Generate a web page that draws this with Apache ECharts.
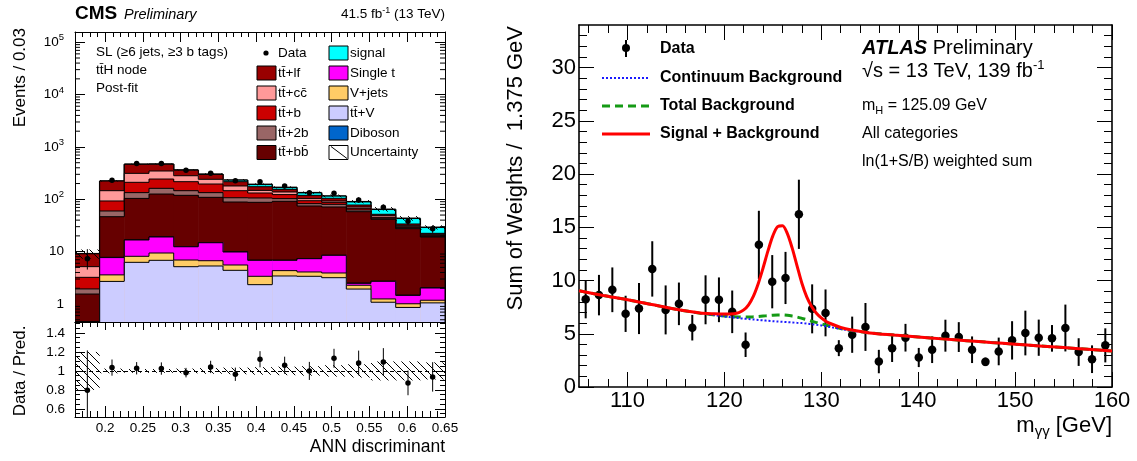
<!DOCTYPE html>
<html>
<head>
<meta charset="utf-8">
<script src="https://cdn.jsdelivr.net/npm/echarts@6/dist/echarts.min.js"></script>
<style>
  html, body { margin: 0; padding: 0; background: #fff; }
  #c { width: 1137px; height: 461px; }
</style>
</head>
<body>
<div id="c"></div>
<script>
// ============ Left: CMS ttH, SL (>=6 jets, >=3 b tags), ANN ttH node, post-fit ============
const annEdges = [0.16, 0.1927, 0.2253, 0.258, 0.2907, 0.3233, 0.356, 0.3887, 0.4213, 0.454, 0.4867, 0.5193, 0.552, 0.5847, 0.6173, 0.65];
const annMajorTicks = [0.2, 0.25, 0.3, 0.35, 0.4, 0.45, 0.5, 0.55, 0.6, 0.65];
const ratioMajorTicks = [0.6, 0.8, 1, 1.2, 1.4];

// per-bin yields, stacked bottom to top
const ttV     = [0.2, 2.7, 6.25, 6.83, 5.16, 5.32, 4.4, 2.34, 3.43, 3.38, 3.18, 1.93, 1.08, 0.86, 1.05];
const vJets   = [0.02, 0.9, 1.9, 2.59, 1.76, 1.39, 1.16, 1.04, 0.91, 0.71, 0.73, 0.35, 0.17, 0.15, 0.13];
const singleT = [0.15, 4.1, 8.55, 9.63, 5.48, 8.09, 4.29, 3.45, 2.49, 3.25, 4.6, 0.2, 1.46, 0.45, 0.84];
const diboson = [0.01, 0.1, 0.15, 0.15, 0.12, 0.1, 0.08, 0.06, 0.05, 0.05, 0.04, 0.03, 0.02, 0.02, 0.02];
const ttbb    = [1.17, 38.7, 87.2, 106.8, 106.5, 94.1, 78.8, 80.7, 84.7, 67.1, 62.8, 55.5, 38.8, 26.0, 17.0];
const tt2b    = [0.39, 13.3, 30, 36, 27, 25, 18.3, 18.4, 11.4, 8.1, 8.8, 4.5, 1.9, 1.2, 0.55];
const ttb     = [1.29, 33.1, 77, 82, 71, 62, 39, 26, 20, 11.4, 7.4, 4.8, 1.9, 1.3, 0.9];
const ttcc    = [1.94, 53.1, 102, 103, 65, 45, 33.6, 16, 15, 9, 5.3, 4, 3.3, 1.8, 0.9];
const ttlf    = [3.93, 77, 153, 121, 78, 57, 37.4, 26, 17, 16, 11.7, 6.5, 3.1, 2.0, 1.0];
const ttHsig  = [0.05, 1, 3, 4, 4, 5, 17, 19, 14, 15, 11.5, 12.2, 12.7, 9.6, 6.8];

const annData       = [7.3, 232, 485, 485, 358, 316, 226, 217, 179, 134, 131, 97.5, 70.5, 37.9, 27.4];
const annRatio      = [0.796, 1.035, 1.028, 1.025, 0.982, 1.042, 0.965, 1.123, 1.06, 1.0, 1.133, 1.084, 1.095, 0.874, 0.937];
const annRatioErrUp = [0.42, 0.085, 0.065, 0.065, 0.05, 0.065, 0.07, 0.085, 0.09, 0.095, 0.1, 0.13, 0.145, 0.13, 0.155];
const annRatioErrDn = [0.3, 0.085, 0.065, 0.065, 0.05, 0.065, 0.07, 0.085, 0.09, 0.095, 0.1, 0.13, 0.145, 0.13, 0.155];
const annUncRel     = [0.2, 0.025, 0.02, 0.02, 0.025, 0.03, 0.035, 0.04, 0.045, 0.05, 0.06, 0.07, 0.1, 0.1, 0.09];

// ============ Right: ATLAS H->gamma gamma, ln(1+S/B) weighted ============
const massCenters = [105.69, 107.06, 108.44, 109.81, 111.19, 112.56, 113.94, 115.31, 116.69, 118.06,
  119.44, 120.81, 122.19, 123.56, 124.94, 126.31, 127.69, 129.06, 130.44, 131.81,
  133.19, 134.56, 135.94, 137.31, 138.69, 140.06, 141.44, 142.81, 144.19, 145.56,
  146.94, 148.31, 149.69, 151.06, 152.44, 153.81, 155.19, 156.56, 157.94, 159.31];
const weightSum = [8.25, 8.63, 9.13, 6.87, 7.37, 11.09, 7.24, 7.81, 5.57, 8.19,
  8.19, 7.06, 3.97, 13.35, 9.89, 10.24, 16.22, 7.34, 6.96, 3.65,
  4.91, 5.64, 2.39, 3.65, 4.63, 2.77, 3.50, 4.82, 4.69, 3.50,
  2.36, 3.34, 4.38, 5.07, 4.63, 4.57, 5.54, 3.28, 2.61, 3.91];
const weightErr = [1.8, 1.9, 2.1, 1.7, 2.4, 2.6, 2.3, 2.0, 1.2, 2.3,
  2.1, 2.0, 1.15, 3.2, 2.5, 2.45, 3.25, 2.3, 2.2, 0.75,
  1.7, 2.25, 1.1, 1.3, 1.3, 0.9, 1.25, 1.5, 1.4, 1.25,
  0.4, 1.3, 1.8, 2.1, 1.7, 1.25, 2.2, 1.3, 1.3, 1.6];

const massKnots = [105, 107.5, 110, 112.5, 115, 117.5, 119, 120, 121, 121.5, 122, 122.5, 123, 123.5, 124, 124.5,
  125, 125.5, 126, 126.5, 127, 127.5, 128, 128.5, 129, 129.5, 130, 130.5, 131, 132, 133, 135,
  137.5, 140, 142.5, 145, 147.5, 150, 152.5, 155, 157.5, 160];
const continuumBkg = [9.04, 8.6, 8.2, 7.75, 7.3, 6.93, 6.75, 6.63, 6.52, 6.47, 6.42, 6.38, 6.34, 6.3, 6.26, 6.22,
  6.18, 6.15, 6.12, 6.09, 6.06, 6.03, 6.0, 5.95, 5.9, 5.84, 5.78, 5.7, 5.62, 5.45, 5.3, 5.08,
  4.88, 4.7, 4.52, 4.35, 4.18, 4.02, 3.86, 3.7, 3.54, 3.38];
const totalBkg = [9.04, 8.6, 8.2, 7.75, 7.3, 6.93, 6.77, 6.67, 6.6, 6.58, 6.57, 6.57, 6.59, 6.62, 6.66, 6.7,
  6.74, 6.76, 6.76, 6.73, 6.66, 6.57, 6.45, 6.32, 6.18, 6.05, 5.92, 5.8, 5.7, 5.5, 5.32, 5.08,
  4.88, 4.7, 4.52, 4.35, 4.18, 4.02, 3.86, 3.7, 3.54, 3.38];
const sigPlusBkg = [9.04, 8.6, 8.2, 7.75, 7.3, 6.95, 6.88, 6.86, 6.89, 6.99, 7.24, 7.72, 8.54, 9.73, 11.2, 12.78,
  14.19, 15.07, 15.14, 14.41, 13.04, 11.38, 9.74, 8.46, 7.57, 6.93, 6.49, 6.16, 5.94, 5.6, 5.37, 5.08,
  4.88, 4.7, 4.52, 4.35, 4.18, 4.02, 3.86, 3.7, 3.54, 3.38];
const massMajorTicks = [110, 120, 130, 140, 150, 160];
const weightMajorTicks = [0, 5, 10, 15, 20, 25, 30];

// ---------------- helpers ----------------
const FONT = 'Liberation Sans, Arial, Helvetica, sans-serif';
const BLACK = '#000';
const LOG_MIN = 0.453, LOG_MAX = 1.57e5;
const R_MIN = 0.515, R_MAX = 1.515;

const clampLog = v => Math.min(LOG_MAX, Math.max(LOG_MIN, v));
const clampR = v => Math.min(R_MAX, Math.max(R_MIN, v));
const nBins = annEdges.length - 1;
const binCenter = i => (annEdges[i] + annEdges[i + 1]) / 2;

function minorBetween(lo, hi, step, majors) {
  const out = [];
  const n = Math.round((hi - lo) / step);
  for (let k = 0; k <= n; k++) {
    const v = +(lo + k * step).toFixed(6);
    if (!majors.some(m => Math.abs(m - v) < step / 10)) out.push(v);
  }
  return out;
}

function linAxis(grid, pos, min, max, ticks, len, lineW, label) {
  return {
    type: 'value', gridIndex: grid, position: pos, min: min, max: max,
    axisLine: { show: lineW > 0, onZero: false, lineStyle: { color: BLACK, width: Math.max(lineW, 0.01) } },
    axisTick: { show: true, inside: true, length: len, customValues: ticks, lineStyle: { color: BLACK, width: 1 } },
    axisLabel: label ? Object.assign({ customValues: ticks, color: BLACK, fontFamily: FONT }, label) : { show: false },
    splitLine: { show: false }, minorTick: { show: false }, minorSplitLine: { show: false },
    axisPointer: { show: false }
  };
}

function logAxis(pos, label) {
  return {
    type: 'log', logBase: 10, gridIndex: 0, position: pos, min: LOG_MIN, max: LOG_MAX,
    axisLine: { show: true, onZero: false, lineStyle: { color: BLACK, width: 1 } },
    axisTick: { show: true, inside: true, length: 10, lineStyle: { color: BLACK, width: 1 } },
    axisLabel: label || { show: false },
    splitLine: { show: false }, minorTick: { show: false }, minorSplitLine: { show: false }
  };
}

const annMinorTicks = minorBetween(0.16, 0.65, 0.01, annMajorTicks);
const ratioMinorTicks = minorBetween(0.55, 1.5, 0.05, ratioMajorTicks);
const massMinorTicks = minorBetween(106, 158, 2, massMajorTicks);
const weightMinorTicks = minorBetween(1, 33, 1, weightMajorTicks);
const logMinorTicks = [];
for (let d = -1; d <= 4; d++) for (let m = 2; m <= 9; m++) {
  const v = m * Math.pow(10, d);
  if (v > LOG_MIN && v < LOG_MAX) logMinorTicks.push(v);
}

// ---------------- stacked histogram ----------------
const stack = [
  { name: 'tt\u0304+V', values: ttV, color: '#ccccff' },
  { name: 'V+jets', values: vJets, color: '#ffcc66' },
  { name: 'Single t', values: singleT, color: '#ff00ff' },
  { name: 'Diboson', values: diboson, color: '#0066cc' },
  { name: 'tt\u0304+bb\u0304', values: ttbb, color: '#660000' },
  { name: 'tt\u0304+2b', values: tt2b, color: '#996666' },
  { name: 'tt\u0304+b', values: ttb, color: '#cc0000' },
  { name: 'tt\u0304+cc\u0304', values: ttcc, color: '#ff9999' },
  { name: 'tt\u0304+lf', values: ttlf, color: '#990000' },
  { name: 'signal', values: ttHsig, color: '#00ffff' }
];
let running = new Array(nBins).fill(0);
const cumTops = stack.map(c => { running = running.map((r, i) => r + c.values[i]); return running.slice(); });
const predTotal = cumTops[cumTops.length - 1];

function histRender(color, lw) {
  return function (params, api) {
    const xl = api.value(0), xh = api.value(1);
    const top = clampLog(api.value(2)), prev = clampLog(api.value(3)), last = api.value(4);
    const a = api.coord([xl, top]), b = api.coord([xh, LOG_MIN]), p = api.coord([xl, prev]);
    const st = { stroke: BLACK, lineWidth: lw };
    const ch = [
      { type: 'rect', shape: { x: a[0], y: a[1], width: b[0] - a[0] + 0.4, height: b[1] - a[1] }, style: { fill: color } },
      { type: 'line', shape: { x1: a[0], y1: a[1], x2: b[0], y2: a[1] }, style: st },
      { type: 'line', shape: { x1: a[0], y1: p[1], x2: a[0], y2: a[1] }, style: st }
    ];
    if (last) ch.push({ type: 'line', shape: { x1: b[0], y1: a[1], x2: b[0], y2: b[1] }, style: st });
    return { type: 'group', children: ch };
  };
}

const histSeries = stack.map((c, k) => ({
  type: 'custom', name: c.name, xAxisIndex: 0, yAxisIndex: 0, clip: true,
  encode: { x: [0, 1], y: [2] },
  renderItem: histRender(c.color, k === stack.length - 1 ? 1.5 : 1),
  data: cumTops[k].map((t, i) => [annEdges[i], annEdges[i + 1], t, i > 0 ? cumTops[k][i - 1] : LOG_MIN, i === nBins - 1 ? 1 : 0])
})).reverse();

// hatched uncertainty band
function hatchRender(clampFn) {
  return function (params, api) {
    const a = api.coord([api.value(0), clampFn(api.value(3))]);
    const b = api.coord([api.value(1), clampFn(api.value(2))]);
    const x0 = a[0], x1 = b[0], y0 = a[1], y1 = b[1];
    const step = 8, lines = [];
    for (let c = Math.floor((y0 - x1) / step) * step; c <= y1 - x0; c += step) {
      const xa = Math.max(x0, y0 - c), xb = Math.min(x1, y1 - c);
      if (xb > xa) lines.push({ type: 'line', shape: { x1: xa, y1: xa + c, x2: xb, y2: xb + c }, style: { stroke: BLACK, lineWidth: 1 } });
    }
    return { type: 'group', children: lines };
  };
}

function errRender(clampFn, lw) {
  return function (params, api) {
    const p1 = api.coord([api.value(0), clampFn(api.value(1))]);
    const p2 = api.coord([api.value(0), clampFn(api.value(2))]);
    return { type: 'line', shape: { x1: p1[0], y1: p1[1], x2: p2[0], y2: p2[1] }, style: { stroke: BLACK, lineWidth: lw } };
  };
}

const ident = v => v;

// ---------------- text helpers ----------------
function txt(x, y, text, size, o) {
  o = o || {};
  return {
    type: 'text', x: x, y: y, rotation: o.rot || 0, silent: true, z: 100,
    style: {
      text: text, fill: BLACK, fontFamily: FONT, fontSize: size,
      fontWeight: o.bold ? 'bold' : 'normal', fontStyle: o.italic ? 'italic' : 'normal',
      textAlign: o.align || 'left', textVerticalAlign: 'middle', verticalAlign: 'middle',
      rich: o.rich
    }
  };
}
function box(x, y, color) {
  return { type: 'rect', silent: true, z: 100, shape: { x: x, y: y, width: 19, height: 14 }, style: { fill: color, stroke: BLACK, lineWidth: 1 } };
}
function seg(x1, y1, x2, y2, style) {
  return { type: 'line', silent: true, z: 100, shape: { x1: x1, y1: y1, x2: x2, y2: y2 }, style: style };
}

const supRich = s => ({ sup: { fontSize: s, fontFamily: FONT, padding: [0, 0, Math.round(s * 0.9), 0] } });
const subRich = s => ({ sub: { fontSize: s, fontFamily: FONT, padding: [Math.round(s * 0.8), 0, 0, 0] } });

const logLabel = {
  color: BLACK, fontFamily: FONT, fontSize: 13.5, margin: 11,
  showMinLabel: false, showMaxLabel: false,
  formatter: function (v) {
    const e = Math.log10(v);
    if (Math.abs(e - Math.round(e)) > 0.01) return '';
    const n = Math.round(e);
    if (n === 0) return '1';
    if (n === 1) return '10';
    return '10{sup|' + n + '}';
  },
  rich: supRich(9.5)
};

// ---------------- legend positions (left) ----------------
const legCol1 = [
  { name: 'tt\u0304+lf', color: '#990000' },
  { name: 'tt\u0304+cc\u0304', color: '#ff9999' },
  { name: 'tt\u0304+b', color: '#cc0000' },
  { name: 'tt\u0304+2b', color: '#996666' },
  { name: 'tt\u0304+bb\u0304', color: '#660000' }
];
const legCol2 = [
  { name: 'signal', color: '#00ffff' },
  { name: 'Single t', color: '#ff00ff' },
  { name: 'V+jets', color: '#ffcc66' },
  { name: 'tt\u0304+V', color: '#ccccff' },
  { name: 'Diboson', color: '#0066cc' }
];
const legRowY = [53, 73, 93, 113, 133, 152.5];

const graphics = [];
// CMS header
graphics.push(txt(75, 13.5, 'CMS', 19, { bold: true }));
graphics.push(txt(124, 14.5, 'Preliminary', 14.5, { italic: true }));
graphics.push(txt(445, 14.5, '41.5 fb{sup|-1} (13 TeV)', 13.5, { align: 'right', rich: supRich(9) }));
// selection text
graphics.push(txt(96, 52, 'SL (\u22656 jets, \u22653 b tags)', 13.5));
graphics.push(txt(96, 70, 'tt\u0304H node', 13.5));
graphics.push(txt(96, 88, 'Post-fit', 13.5));
// legend
graphics.push({ type: 'circle', silent: true, z: 100, shape: { cx: 266, cy: legRowY[0], r: 2.6 }, style: { fill: BLACK } });
graphics.push(txt(278, legRowY[0], 'Data', 13.5));
legCol1.forEach((e, k) => {
  graphics.push(box(257, legRowY[k + 1] - 7, e.color));
  graphics.push(txt(278, legRowY[k + 1], e.name, 13.5));
});
legCol2.forEach((e, k) => {
  graphics.push(box(329, legRowY[k] - 7, e.color));
  graphics.push(txt(350, legRowY[k], e.name, 13.5));
});
graphics.push(box(329, legRowY[5] - 7, '#ffffff'));
graphics.push(seg(331, legRowY[5] - 6, 347, legRowY[5] + 6, { stroke: BLACK, lineWidth: 1 }));
graphics.push(txt(350, legRowY[5], 'Uncertainty', 13.5));
// left axis titles
graphics.push(txt(20, 28, 'Events / 0.03', 17, { rot: Math.PI / 2, align: 'right' }));
graphics.push(txt(20, 371, 'Data / Pred.', 17, { rot: Math.PI / 2, align: 'center' }));
graphics.push(txt(445, 447, 'ANN discriminant', 17.5, { align: 'right' }));

// ATLAS legend
graphics.push(seg(626, 40, 626, 57, { stroke: BLACK, lineWidth: 2 }));
graphics.push({ type: 'circle', silent: true, z: 100, shape: { cx: 626, cy: 48, r: 4 }, style: { fill: BLACK } });
graphics.push(txt(660, 49, 'Data', 16, { bold: true }));
graphics.push(seg(602, 78, 650, 78, { stroke: '#1a1aff', lineWidth: 2, lineDash: [2, 2] }));
graphics.push(txt(660, 78, 'Continuum Background', 16, { bold: true }));
graphics.push(seg(602, 106, 650, 106, { stroke: '#159a15', lineWidth: 3, lineDash: [8, 5] }));
graphics.push(txt(660, 106, 'Total Background', 16, { bold: true }));
graphics.push(seg(602, 134, 650, 134, { stroke: '#ff0000', lineWidth: 3 }));
graphics.push(txt(660, 134, 'Signal + Background', 16, { bold: true }));
graphics.push(txt(862, 48.5, '{b|ATLAS} Preliminary', 20, {
  rich: { b: { fontSize: 20, fontFamily: FONT, fontWeight: 'bold', fontStyle: 'italic' } }
}));
graphics.push(txt(862, 71, '\u221As = 13 TeV, 139 fb{sup|-1}', 20, { rich: supRich(13) }));
graphics.push(txt(862, 106, 'm{sub|H} = 125.09 GeV', 16, { rich: subRich(11) }));
graphics.push(txt(862, 133.5, 'All categories', 16));
graphics.push(txt(862, 161.5, 'ln(1+S/B) weighted sum', 16));
// ATLAS axis titles
graphics.push(txt(516, 26, 'Sum of Weights /  1.375 GeV', 22, { rot: Math.PI / 2, align: 'right' }));
graphics.push(txt(1112, 426, 'm{sub|\u03b3\u03b3} [GeV]', 22, { align: 'right', rich: subRich(15) }));

const dotStyle = { color: BLACK, opacity: 1 };

// ---------------- option ----------------
const option = {
  animation: false,
  backgroundColor: '#ffffff',
  textStyle: { fontFamily: FONT },
  grid: [
    { left: 75, top: 32, width: 370, height: 290, outerBoundsMode: 'none', containLabel: false },
    { left: 75, top: 322, width: 370, height: 95, outerBoundsMode: 'none', containLabel: false },
    { left: 579, top: 25, width: 533, height: 362, outerBoundsMode: 'none', containLabel: false }
  ],
  xAxis: [
    linAxis(0, 'bottom', 0.16, 0.65, annMajorTicks, 12, 1),
    linAxis(0, 'bottom', 0.16, 0.65, annMinorTicks, 6, 0),
    linAxis(0, 'top', 0.16, 0.65, annMajorTicks, 10, 1),
    linAxis(0, 'top', 0.16, 0.65, annMinorTicks, 5, 0),
    linAxis(1, 'bottom', 0.16, 0.65, annMajorTicks, 11, 1, {
      fontSize: 13.5, margin: 4, formatter: v => String(+v.toFixed(2))
    }),
    linAxis(1, 'bottom', 0.16, 0.65, annMinorTicks, 6, 0),
    linAxis(1, 'top', 0.16, 0.65, annMajorTicks, 8, 1),
    linAxis(1, 'top', 0.16, 0.65, annMinorTicks, 5, 0),
    linAxis(2, 'bottom', 105, 160, massMajorTicks, 15, 1.6, {
      fontSize: 22, margin: 3, formatter: v => String(Math.round(v))
    }),
    linAxis(2, 'bottom', 105, 160, massMinorTicks, 8, 0),
    linAxis(2, 'top', 105, 160, massMajorTicks, 15, 1.6),
    linAxis(2, 'top', 105, 160, massMinorTicks, 8, 0)
  ],
  yAxis: [
    logAxis('left', logLabel),
    logAxis('right'),
    linAxis(1, 'left', R_MIN, R_MAX, ratioMajorTicks, 10, 1, {
      fontSize: 13.5, margin: 10, formatter: v => String(+v.toFixed(1))
    }),
    linAxis(1, 'left', R_MIN, R_MAX, ratioMinorTicks, 5, 0),
    linAxis(1, 'right', R_MIN, R_MAX, ratioMajorTicks, 10, 1),
    linAxis(1, 'right', R_MIN, R_MAX, ratioMinorTicks, 5, 0),
    linAxis(2, 'left', 0, 34, weightMajorTicks, 15, 1.6, {
      fontSize: 22, margin: 3, formatter: v => String(Math.round(v))
    }),
    linAxis(2, 'left', 0, 34, weightMinorTicks, 8, 0),
    linAxis(2, 'right', 0, 34, weightMajorTicks, 15, 1.6),
    linAxis(2, 'right', 0, 34, weightMinorTicks, 8, 0)
  ],
  series: [
    ...histSeries,
    // log-axis minor ticks (2..9 per decade), both sides
    {
      type: 'custom', xAxisIndex: 0, yAxisIndex: 0, silent: true, z: 5,
      encode: { y: [0] },
      data: logMinorTicks.map(v => [v]),
      renderItem: function (params, api) {
        const l = api.coord([0.16, api.value(0)]), r = api.coord([0.65, api.value(0)]);
        const st = { stroke: BLACK, lineWidth: 1 };
        return { type: 'group', children: [
          { type: 'line', shape: { x1: l[0], y1: l[1], x2: l[0] + 5, y2: l[1] }, style: st },
          { type: 'line', shape: { x1: r[0] - 5, y1: r[1], x2: r[0], y2: r[1] }, style: st }
        ] };
      }
    },
    // uncertainty hatch on stack
    {
      type: 'custom', xAxisIndex: 0, yAxisIndex: 0, silent: true, clip: true,
      encode: { x: [0, 1], y: [2, 3] },
      renderItem: hatchRender(clampLog),
      data: predTotal.map((t, i) => [annEdges[i], annEdges[i + 1], t * (1 - annUncRel[i]), t * (1 + annUncRel[i])])
    },
    // data error bars and points
    {
      type: 'custom', xAxisIndex: 0, yAxisIndex: 0, silent: true, clip: true,
      encode: { x: [0], y: [1, 2] },
      renderItem: errRender(clampLog, 1),
      data: annData.map((d, i) => [binCenter(i), d * (1 - annRatioErrDn[i] / annRatio[i]), d * (1 + annRatioErrUp[i] / annRatio[i])])
    },
    {
      type: 'scatter', xAxisIndex: 0, yAxisIndex: 0, symbol: 'circle', symbolSize: 5.5,
      itemStyle: dotStyle, silent: true,
      data: annData.map((d, i) => [binCenter(i), d])
    },
    // ratio panel: hatch band, errors, points, unity line
    {
      type: 'custom', xAxisIndex: 4, yAxisIndex: 2, silent: true, clip: true,
      encode: { x: [0, 1], y: [2, 3] },
      renderItem: hatchRender(clampR),
      data: annUncRel.map((u, i) => [annEdges[i], annEdges[i + 1], 1 - u, 1 + u])
    },
    {
      type: 'custom', xAxisIndex: 4, yAxisIndex: 2, silent: true, clip: true,
      encode: { x: [0], y: [1, 2] },
      renderItem: errRender(clampR, 1),
      data: annRatio.map((r, i) => [binCenter(i), r - annRatioErrDn[i], r + annRatioErrUp[i]])
    },
    {
      type: 'scatter', xAxisIndex: 4, yAxisIndex: 2, symbol: 'circle', symbolSize: 5.5,
      itemStyle: dotStyle, silent: true,
      data: annRatio.map((r, i) => [binCenter(i), r]),
      markLine: {
        silent: true, symbol: 'none', label: { show: false },
        lineStyle: { color: BLACK, width: 1, type: [4, 3], opacity: 1 },
        data: [{ yAxis: 1 }]
      }
    },
    // ATLAS curves
    {
      type: 'line', xAxisIndex: 8, yAxisIndex: 6, showSymbol: false, silent: true, smooth: 0.3,
      lineStyle: { color: '#159a15', width: 3, type: [8, 5] },
      data: massKnots.map((m, i) => [m, totalBkg[i]])
    },
    {
      type: 'line', xAxisIndex: 8, yAxisIndex: 6, showSymbol: false, silent: true, smooth: 0.3,
      lineStyle: { color: '#1a1aff', width: 2, type: [2, 2] },
      data: massKnots.map((m, i) => [m, continuumBkg[i]])
    },
    {
      type: 'line', xAxisIndex: 8, yAxisIndex: 6, showSymbol: false, silent: true, smooth: 0.3,
      lineStyle: { color: '#ff0000', width: 3 },
      data: massKnots.map((m, i) => [m, sigPlusBkg[i]])
    },
    {
      type: 'custom', xAxisIndex: 8, yAxisIndex: 6, silent: true, clip: true,
      encode: { x: [0], y: [1, 2] },
      renderItem: errRender(ident, 2),
      data: weightSum.map((w, i) => [massCenters[i], w - weightErr[i], w + weightErr[i]])
    },
    {
      type: 'scatter', xAxisIndex: 8, yAxisIndex: 6, symbol: 'circle', symbolSize: 8.5,
      itemStyle: dotStyle, silent: true,
      data: weightSum.map((w, i) => [massCenters[i], w])
    }
  ],
  graphic: graphics
};

const chart = echarts.init(document.getElementById('c'), null, { renderer: 'canvas', width: 1137, height: 461 });
chart.setOption(option);
</script>
</body>
</html>
